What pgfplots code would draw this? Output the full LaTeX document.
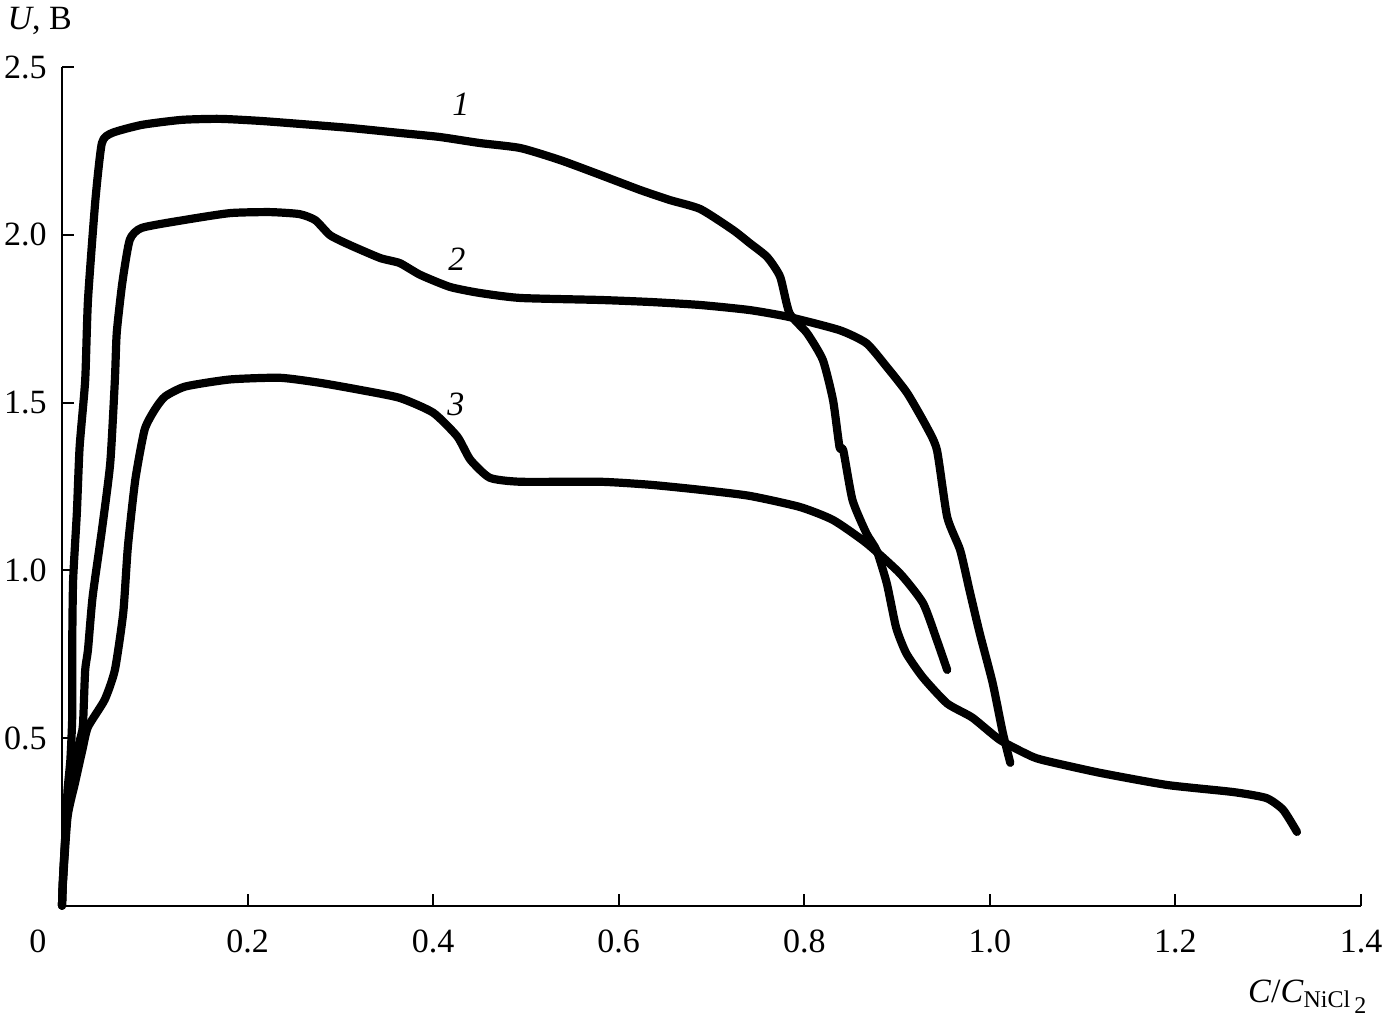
\documentclass[border=0pt]{standalone}
\usepackage{pgfplots}
\pgfplotsset{compat=1.18}
\usepackage{fontspec}
\setmainfont{Liberation Serif}
\begin{document}
\begin{tikzpicture}
\useasboundingbox (-31pt,-59.15pt) rectangle (661pt,452.85pt);
\begin{axis}[
  at={(0,0)}, anchor=south west,
  scale only axis, width=649.5pt, height=419.25pt,
  xmin=0, xmax=1.4, ymin=0, ymax=2.5,
  axis x line=bottom, axis y line=left,
  axis line style={-, line width=1pt},
  tick align=inside, major tick length=6pt,
  tick style={line width=1pt, black},
  xtick={0.2,0.4,0.6,0.8,1.0,1.2,1.4},
  xticklabels={0.2,0.4,0.6,0.8,1.0,1.2,1.4},
  ytick={0.5,1.0,1.5,2.0,2.5},
  yticklabels={0.5,1.0,1.5,2.0,2.5},
  ticklabel style={font=\fontsize{17}{20}\selectfont, inner sep=0pt},
  xticklabel style={anchor=north, yshift=-12pt},
  yticklabel style={anchor=east, xshift=-7.5pt},
  clip=false,
]
\pgfplotsset{cstyle/.style={black, line width=4.1pt, line join=round, line cap=round, mark=none, smooth, tension=0.35}}
% curve 1
\addplot[cstyle] coordinates {
(0.000,0.000) (0.001,0.077) (0.004,0.226) (0.006,0.345) (0.009,0.434)
(0.011,0.563) (0.011,0.771) (0.012,0.971) (0.016,1.171) (0.019,1.368)
(0.025,1.567) (0.028,1.806) (0.036,2.104) (0.043,2.274) (0.054,2.304)
(0.086,2.328) (0.129,2.343) (0.170,2.346) (0.213,2.340) (0.256,2.331)
(0.310,2.319) (0.364,2.304) (0.407,2.292) (0.450,2.274) (0.494,2.259)
(0.537,2.223) (0.580,2.179) (0.623,2.134) (0.655,2.104) (0.688,2.077)
(0.723,2.015) (0.741,1.976) (0.760,1.934) (0.774,1.875) (0.784,1.767)
(0.803,1.707) (0.820,1.627) (0.831,1.507) (0.838,1.367) (0.842,1.358)
(0.852,1.209) (0.867,1.110) (0.878,1.059) (0.889,0.960) (0.899,0.829)
(0.910,0.752) (0.928,0.680) (0.954,0.603) (0.981,0.561) (1.011,0.494)
(1.046,0.444) (1.065,0.429) (1.119,0.396) (1.191,0.360) (1.262,0.339)
(1.298,0.321) (1.316,0.286) (1.331,0.220)
};
% curve 2
\addplot[cstyle] coordinates {
(0.000,0.000) (0.001,0.077) (0.004,0.226) (0.009,0.345) (0.014,0.434)
(0.022,0.524) (0.023,0.563) (0.025,0.703) (0.028,0.763) (0.033,0.921)
(0.043,1.120) (0.052,1.320) (0.057,1.568) (0.059,1.708) (0.065,1.857)
(0.073,1.985) (0.086,2.021) (0.133,2.045) (0.181,2.065) (0.224,2.068)
(0.256,2.062) (0.273,2.044) (0.289,1.999) (0.310,1.970) (0.343,1.931)
(0.364,1.916) (0.386,1.881) (0.418,1.845) (0.450,1.827) (0.494,1.812)
(0.580,1.806) (0.634,1.800) (0.688,1.791) (0.741,1.776) (0.784,1.755)
(0.838,1.716) (0.867,1.677) (0.889,1.606) (0.911,1.528) (0.932,1.427)
(0.943,1.358) (0.954,1.159) (0.968,1.060) (0.978,0.941) (0.989,0.813)
(1.003,0.664) (1.014,0.515) (1.022,0.426)
};
% curve 3
\addplot[cstyle] coordinates {
(0.000,0.000) (0.001,0.068) (0.006,0.265) (0.014,0.366) (0.022,0.465)
(0.028,0.533) (0.046,0.614) (0.057,0.703) (0.066,0.873) (0.071,1.070)
(0.079,1.270) (0.089,1.419) (0.100,1.479) (0.111,1.518) (0.133,1.548)
(0.181,1.569) (0.235,1.574) (0.278,1.559) (0.321,1.538) (0.364,1.514)
(0.400,1.470) (0.426,1.399) (0.440,1.330) (0.461,1.276) (0.494,1.264)
(0.580,1.264) (0.634,1.255) (0.688,1.240) (0.741,1.222) (0.795,1.189)
(0.831,1.150) (0.867,1.081) (0.903,0.991) (0.928,0.902) (0.943,0.791)
(0.954,0.703)
};
\node[font=\fontsize{17}{20}\selectfont\itshape] at (axis cs:0.430,2.390) {1};
\node[font=\fontsize{17}{20}\selectfont\itshape] at (axis cs:0.4257,1.928) {2};
\node[font=\fontsize{17}{20}\selectfont\itshape] at (axis cs:0.4246,1.496) {3};
\node[font=\fontsize{17}{20}\selectfont, anchor=north, inner sep=0pt, yshift=-12pt] at (axis cs:-0.0259,0) {0};
\node[font=\fontsize{17}{20}\selectfont, anchor=base west, inner sep=0pt] at (axis cs:-0.059,2.611) {\textit{U}, B};
\node[font=\fontsize{17}{20}\selectfont, anchor=base west, inner sep=0pt] at (axis cs:1.278,-0.290) {\textit{C}/\textit{C}\raisebox{-0.3ex}{\fontsize{12}{14}\selectfont NiCl\,\raisebox{-0.5ex}{2}}};
\end{axis}
\end{tikzpicture}
\end{document}
